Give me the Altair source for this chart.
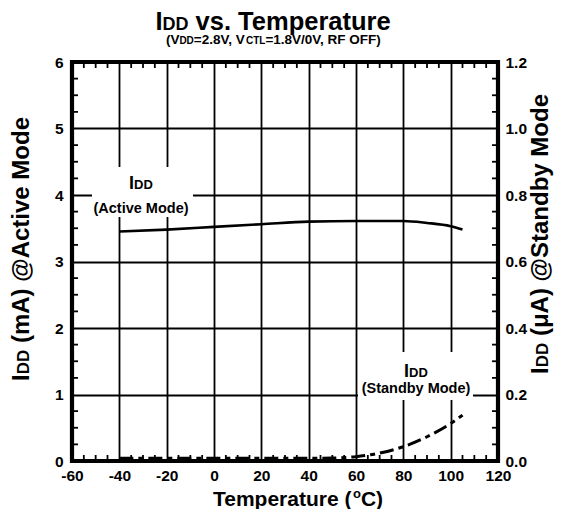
import altair as alt
import pandas as pd

# ---------------- data ----------------
temps_active = [-40, -20, 0, 20, 40, 60, 80, 90, 100, 105]
idd_active_mA = [3.45, 3.48, 3.52, 3.56, 3.60, 3.61, 3.61, 3.58, 3.53, 3.48]

temps_standby = [-40, -20, 0, 20, 40, 50, 60, 70, 80, 90, 100, 105]
idd_standby_uA = [0.008, 0.008, 0.008, 0.008, 0.008, 0.009, 0.013, 0.024, 0.043, 0.073, 0.113, 0.138]

x_ticks = [-60, -40, -20, 0, 20, 40, 60, 80, 100, 120]
y_left_ticks = [0, 1, 2, 3, 4, 5, 6]
y_right_ticks = [0.0, 0.2, 0.4, 0.6, 0.8, 1.0, 1.2]
x_minor = [-55, -50, -45, -35, -30, -25, -15, -10, -5, 5, 10, 15, 25, 30, 35,
           45, 50, 55, 65, 70, 75, 85, 90, 95, 105, 110, 115]
y_minor = [0.25, 0.5, 0.75, 1.25, 1.5, 1.75, 2.25, 2.5, 2.75, 3.25, 3.5, 3.75,
           4.25, 4.5, 4.75, 5.25, 5.5, 5.75]

# ---------------- layout ----------------
W, H = 426, 399
XMIN, XMAX = -60, 120
YMAX = 6
FONT = "Liberation Sans"


def px2x(p):
    return XMIN + p * (XMAX - XMIN) / W


def py2y(p):
    return YMAX - p * YMAX / H


CW = {' ': 278, '(': 333, ')': 333, '.': 278, ',': 278, '/': 278, '=': 584, '@': 975,
      '-': 333, 'A': 722, 'C': 722, 'D': 722, 'E': 667, 'F': 611, 'I': 278, 'L': 611,
      'M': 833, 'O': 778, 'R': 722, 'S': 667, 'T': 611, 'V': 667, 'a': 556, 'b': 611,
      'c': 556, 'd': 611, 'e': 556, 'i': 278, 'm': 889, 'n': 611, 'o': 611, 'p': 611,
      'r': 389, 's': 556, 't': 333, 'u': 611, 'v': 556, 'y': 556, 'μ': 611}


def tw(s, fs):
    return sum(CW.get(c, 556) for c in s) * fs / 1000.0


def lead(t, f):
    return tw(t[:len(t) - len(t.lstrip())], f)


def hrow(pieces, cx, base):
    total = sum(tw(t, f) for t, f, _ in pieces)
    x = cx - total / 2
    rows = []
    for t, f, dy in pieces:
        rows.append({"x": px2x(x + lead(t, f)), "y": py2y(base + dy), "text": t.strip(), "fs": f})
        x += tw(t, f)
    return rows


def vrow(pieces, cy, base):
    total = sum(tw(t, f) for t, f, _ in pieces)
    y = cy + total / 2
    rows = []
    for t, f, dx in pieces:
        rows.append({"x": px2x(base + dx), "y": py2y(y - lead(t, f)), "text": t.strip(), "fs": f})
        y -= tw(t, f)
    return rows


h_rows = []
h_rows += hrow([("I", 25.5, 0), ("DD", 18, 0), (" vs. Temperature", 25.5, 0)], 202, -32)
h_rows += hrow([("(V", 13.5, 0), ("DD", 10, 0), ("=2.8V, V", 13.5, 0), ("CTL", 10, 0),
                ("=1.8V/0V, RF OFF)", 13.5, 0)], 202, -18)
h_rows += hrow([("Temperature (", 21, 0), ("o", 13, -8), ("C)", 21, 0)], 226, 444)
h_rows += hrow([("I", 18, 0), ("DD", 13, 0)], 69, 127)
h_rows += hrow([("(Active Mode)", 14.5, 0)], 69, 151)
h_rows += hrow([("I", 18, 0), ("DD", 13, 0)], 344, 315)
h_rows += hrow([("(Standby Mode)", 14.5, 0)], 344, 331)
h_df = pd.DataFrame(h_rows)

v_rows = []
v_rows += vrow([("I", 24, 0), ("DD", 17, 0), (" (mA) @Active Mode", 24, 0)], 187, -43)
v_rows += vrow([("I", 24, 0), ("DD", 17, 0), (" (μA) @Standby Mode", 24, 0)], 172, 476)
v_df = pd.DataFrame(v_rows)

box_df = pd.DataFrame([
    {"x0": px2x(20), "x1": px2x(121), "y0": py2y(105), "y1": py2y(155)},
    {"x0": px2x(286), "x1": px2x(401), "y0": py2y(290), "y1": py2y(338)},
])

# ---------------- scales / axes ----------------
XS = alt.Scale(domain=[XMIN, XMAX], nice=False, zero=False)
YL = alt.Scale(domain=[0, YMAX], nice=False)
YR = alt.Scale(domain=[0, 1.2], nice=False)

LBL = dict(labelFont=FONT, labelFontSize=15.5, labelFontWeight="bold",
           labelColor="black", ticks=False, domain=False,
           labelFlush=False, labelOverlap=False)

x_axis = alt.Axis(title=None, values=x_ticks, labelExpr="toString(datum.value)",
                  labelPadding=7, grid=True, gridColor="black", gridWidth=1.8,
                  gridOpacity=1, **LBL)
yl_axis = alt.Axis(title=None, values=y_left_ticks, labelExpr="toString(datum.value)",
                   orient="left", labelPadding=9, grid=True, gridColor="black",
                   gridWidth=1.8, gridOpacity=1, **LBL)
yr_axis = alt.Axis(title=None, values=y_right_ticks, format=".1f", orient="right",
                   labelPadding=7, grid=False, **LBL)


def X(f):
    return alt.X(f"{f}:Q", scale=XS, axis=x_axis)


def YLe(f):
    return alt.Y(f"{f}:Q", scale=YL, axis=yl_axis)


active = alt.Chart(pd.DataFrame({"t": temps_active, "v": idd_active_mA})).mark_line(
    color="black", strokeWidth=2.6, interpolate="monotone"
).encode(x=X("t"), y=YLe("v"))

boxes = alt.Chart(box_df).mark_rect(fill="white").encode(
    x=X("x0"), x2="x1", y=YLe("y0"), y2="y1")

htext = alt.Chart(h_df).mark_text(align="left", baseline="alphabetic", font=FONT,
                                  fontWeight="bold", color="black").encode(
    x=X("x"), y=YLe("y"), text="text:N", size=alt.Size("fs:Q", scale=None))

vtext = alt.Chart(v_df).mark_text(align="left", baseline="alphabetic", font=FONT,
                                  fontWeight="bold", color="black", angle=270).encode(
    x=X("x"), y=YLe("y"), text="text:N", size=alt.Size("fs:Q", scale=None))

xm_df = pd.DataFrame({"t": x_minor})
ym_df = pd.DataFrame({"v": y_minor})
tick_b = alt.Chart(xm_df).mark_rule(color="black", strokeWidth=1.8).encode(
    x=X("t"), y=alt.value(H), y2=alt.value(H - 6))
tick_t = alt.Chart(xm_df).mark_rule(color="black", strokeWidth=1.8).encode(
    x=X("t"), y=alt.value(0), y2=alt.value(6))
tick_l = alt.Chart(ym_df).mark_rule(color="black", strokeWidth=1.8).encode(
    y=YLe("v"), x=alt.value(0), x2=alt.value(6))
tick_r = alt.Chart(ym_df).mark_rule(color="black", strokeWidth=1.8).encode(
    y=YLe("v"), x=alt.value(W - 6), x2=alt.value(W))

frame = alt.Chart(pd.DataFrame({"k": [0]})).mark_rect(
    fill=None, stroke="black", strokeWidth=4.2, filled=False
).encode(x=alt.value(0), x2=alt.value(W), y=alt.value(0), y2=alt.value(H))

left = alt.layer(boxes, active, tick_b, tick_t, tick_l, tick_r, htext, vtext)

standby = alt.Chart(pd.DataFrame({"t": temps_standby, "v": idd_standby_uA})).mark_line(
    color="black", strokeWidth=3, strokeDash=[14, 5, 5, 5], interpolate="monotone"
).encode(x=X("t"), y=alt.Y("v:Q", scale=YR, axis=yr_axis))

chart = alt.layer(left, frame, standby).resolve_scale(y="independent").properties(
    width=W, height=H,
    padding={"left": 64, "top": 54, "right": 57, "bottom": 48},
    autosize=alt.AutoSizeParams(type="none"),
    background="white",
).configure_view(strokeWidth=0)

chart.save("out.html", embed_options={"renderer": "svg", "actions": False})
